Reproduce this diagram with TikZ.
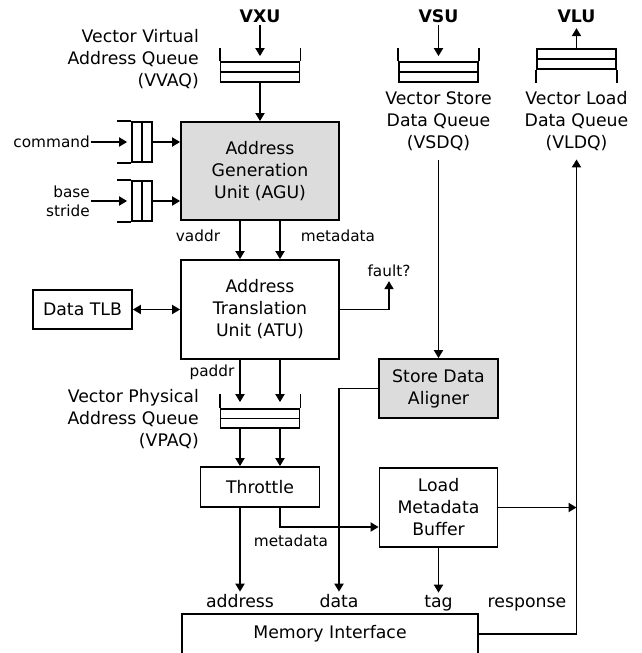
\documentclass[tikz,border=0pt]{standalone}
\usepackage{fontspec}
\setmainfont{DejaVu Sans}
\usetikzlibrary{arrows.meta,calc}
\definecolor{boxgray}{RGB}{220,220,220}
\begin{document}
\begin{tikzpicture}[x=1pt,y=-1pt,
  every node/.style={inner sep=2pt},
  mainf/.style={font=\fontsize{17.3}{22}\selectfont},
  smallf/.style={font=\fontsize{15.3}{19}\selectfont},
  boldf/.style={font=\fontsize{17.3}{22}\selectfont\bfseries},
  blk/.style={draw, line width=1.8pt, inner sep=0pt, align=center, mainf},
  ln/.style={line width=1.8pt},
  arr/.style={ln, -{Triangle[length=8pt,width=9pt]}},
  darr/.style={ln, {Triangle[length=8pt,width=9pt]}-{Triangle[length=8pt,width=9pt]}},
  hq/.style={draw, line width=1.8pt, minimum width=79pt, minimum height=20pt, inner sep=0pt},
  vq/.style={draw, line width=1.8pt, minimum width=20pt, minimum height=40pt, inner sep=0pt},
]
\clip (0,0) rectangle (641,653);
% top units and queues
\node[boldf] (vxu) at (260,16) {VXU};
\node[hq] (vvaq) at (260,72) {};
\node[mainf, align=right, anchor=east] (vvaql) at (201,59.5) {Vector Virtual\\Address Queue\\(VVAQ)};
\node[boldf] (vsu) at (438.5,16) {VSU};
\node[hq] (vsdq) at (438.5,72) {};
\node[mainf, align=center] (vsdql) at (438.5,121.5) {Vector Store\\Data Queue\\(VSDQ)};
\node[boldf] (vlu) at (576.5,16) {VLU};
\node[hq] (vldq) at (576.5,59) {};
\node[mainf, align=center] (vldql) at (576.5,121.5) {Vector Load\\Data Queue\\(VLDQ)};
% AGU and inputs
\node[blk, fill=boxgray, minimum width=158pt, minimum height=98pt] (agu) at (260,171) {Address\\Generation\\Unit (AGU)};
\node[vq] (cmdq) at (142,142) {};
\node[vq] (bsq) at (142,201) {};
\node[smallf, anchor=east, inner sep=1pt] (cmd) at (91,142) {command};
\node[smallf, anchor=east, align=right, inner sep=1pt] (bs) at (91,201) {base\\stride};
% ATU
\node[blk, minimum width=158pt, minimum height=99pt] (atu) at (260,309.5) {Address\\Translation\\Unit (ATU)};
\node[blk, minimum width=99pt, minimum height=39pt] (tlb) at (82.5,309.5) {Data TLB};
\node[smallf] (vaddr) at (198,236) {vaddr};
\node[smallf] (meta1) at (338,236) {metadata};
\node[smallf, inner sep=1pt] (fault) at (389,271) {fault?};
\node[smallf] (paddr) at (212,372) {paddr};
% VPAQ
\node[hq, minimum height=19pt] (vpaq) at (260,418.5) {};
\node[mainf, align=right, anchor=east] (vpaql) at (201,419) {Vector Physical\\Address Queue\\(VPAQ)};
% lower blocks
\node[blk, minimum width=119pt, minimum height=40pt] (thr) at (260,487) {Throttle};
\node[blk, fill=boxgray, minimum width=119pt, minimum height=59pt] (sda) at (438.5,388.5) {Store Data\\Aligner};
\node[blk, minimum width=118pt, minimum height=79pt] (lmb) at (438.5,507.5) {Load\\Metadata\\Buffer};
\node[smallf] (meta2) at (291,541) {metadata};
\node[mainf, anchor=base] (addr) at (240,607) {address};
\node[mainf, anchor=base] (data) at (339,607) {data};
\node[mainf, anchor=base] (tag) at (438.5,607) {tag};
\node[mainf, anchor=base] (resp) at (527,607) {response};
\node[blk, minimum width=296pt, minimum height=40pt] (mem) at (330,634) {Memory Interface};

% queue details
\draw[ln] (vvaq.west) -- (vvaq.east);
\draw[ln] (vvaq.north west) -- ++(0,-13);
\draw[ln] (vvaq.north east) -- ++(0,-13);
\draw[ln] (vsdq.west) -- (vsdq.east);
\draw[ln] (vsdq.north west) -- ++(0,-13);
\draw[ln] (vsdq.north east) -- ++(0,-13);
\draw[ln] (vldq.west) -- (vldq.east);
\draw[ln] (vldq.south west) -- ++(0,13);
\draw[ln] (vldq.south east) -- ++(0,13);
\draw[ln] (vpaq.west) -- (vpaq.east);
\draw[ln] (vpaq.north west) -- ++(0,-14);
\draw[ln] (vpaq.north east) -- ++(0,-14);
\draw[ln] (cmdq.north) -- (cmdq.south);
\draw[ln] (cmdq.north west) -- ++(-14,0);
\draw[ln] (cmdq.south west) -- ++(-14,0);
\draw[ln] (bsq.north) -- (bsq.south);
\draw[ln] (bsq.north west) -- ++(-14,0);
\draw[ln] (bsq.south west) -- ++(-14,0);

% connectors
\draw[arr] (vxu) -- ([yshift=5pt]vvaq.north);
\draw[arr] (vvaq) -- (agu);
\draw[arr] (vsu) -- ([yshift=5pt]vsdq.north);
\draw[arr, shorten >=3.5pt] (vldq) -- (vlu);
\draw[arr] (cmd.east) -- ([xshift=-4pt]cmdq.west);
\draw[arr] (cmdq.east) -- (cmdq.east -| agu.west);
\draw[arr] (bs.east) -- ([xshift=-4pt]bsq.west);
\draw[arr] (bsq.east) -- (bsq.east -| agu.west);
\draw[arr] ([xshift=-20pt]agu.south) -- ([xshift=-20pt]atu.north);
\draw[arr] ([xshift=20pt]agu.south) -- ([xshift=20pt]atu.north);
\draw[darr] (tlb) -- (atu);
\draw[arr, shorten >=3pt] (atu.east) -| (fault.south);
\draw[arr] ([xshift=-20pt]atu.south) -- ([xshift=-20pt,yshift=6pt]vpaq.north);
\draw[arr] ([xshift=20pt]atu.south) -- ([xshift=20pt,yshift=6pt]vpaq.north);
\draw[arr] ([xshift=-20pt]vpaq.south) -- ([xshift=-20pt]thr.north);
\draw[arr] ([xshift=20pt]vpaq.south) -- ([xshift=20pt]thr.north);
\draw[arr] ([xshift=-20pt]thr.south) -- (addr.north);
\draw[arr] ([xshift=20pt]thr.south) |- ([yshift=-19.5pt]lmb.west);
\draw[arr, shorten <=7pt] (vsdql) -- (sda);
\draw[arr] (sda.west) -| (data.north);
\draw[arr] (lmb) -- (tag);
\draw[arr] (lmb.east) -- (lmb.east -| vldql.south);
\draw[arr, shorten >=6pt] (mem.east) -| (vldql.south);
\end{tikzpicture}
\end{document}
